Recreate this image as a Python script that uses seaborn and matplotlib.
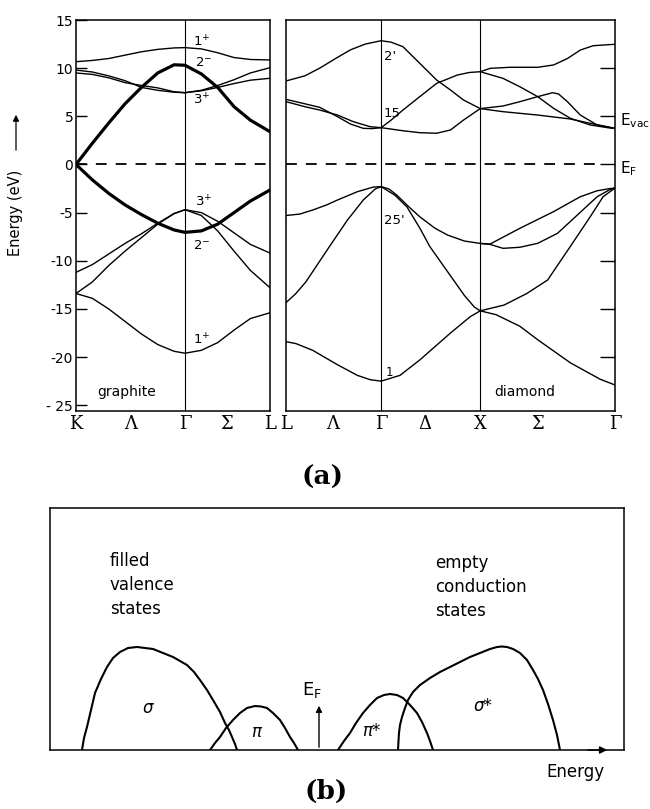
import numpy as np
import pandas as pd
import matplotlib
matplotlib.use("Agg")
import matplotlib.pyplot as plt
import seaborn as sns

sns.set_style("white")
plt.rcParams['font.family'] = ['DejaVu Sans']
plt.rcParams['axes.unicode_minus'] = False
plt.rcParams['mathtext.default'] = 'regular'
plt.rcParams['text.color'] = 'black'
plt.rcParams['axes.labelcolor'] = 'black'
plt.rcParams['xtick.color'] = 'black'
plt.rcParams['ytick.color'] = 'black'
plt.rcParams['lines.solid_joinstyle'] = 'round'

# ---------------- graphite bands (k: K=0, Gamma=1, L=1.78) ----------------
k_graphite = [0, 0.15, 0.3, 0.45, 0.6, 0.75, 0.9, 1.0, 1.15, 1.3, 1.45, 1.6, 1.78]
g_top_1p   = [10.67, 10.8, 11.0, 11.35, 11.7, 11.95, 12.1, 12.13, 12.0, 11.6, 11.1, 10.9, 10.85]
g_pi_up    = [0.0, 2.2, 4.3, 6.3, 8.0, 9.5, 10.35, 10.3, 9.4, 8.0, 6.0, 4.6, 3.4]
g_3p_a     = [9.8, 9.6, 9.2, 8.7, 8.0, 7.7, 7.5, 7.45, 7.7, 8.2, 8.8, 9.5, 10.05]
g_3p_b     = [9.5, 9.35, 9.0, 8.5, 8.2, 7.95, 7.55, 7.45, 7.65, 8.0, 8.4, 8.75, 8.95]
g_pi_down  = [0.0, -1.6, -3.0, -4.2, -5.2, -6.1, -6.8, -7.05, -6.9, -6.2, -5.0, -3.8, -2.65]
g_low_a    = [-11.2, -10.4, -9.3, -8.2, -7.2, -6.1, -5.1, -4.7, -5.0, -5.9, -7.1, -8.3, -9.2]
g_low_b    = [-13.4, -12.2, -10.5, -9.0, -7.6, -6.2, -5.1, -4.7, -5.3, -6.9, -9.0, -11.0, -12.8]
g_bot_1p   = [-13.4, -13.9, -15.0, -16.3, -17.6, -18.7, -19.4, -19.6, -19.3, -18.5, -17.2, -16.0, -15.4]

g_ticks = [0, 0.5, 1.0, 1.385, 1.78]
g_ticklabels = ['K', 'Λ', 'Γ', 'Σ', 'L']

# ---------------- diamond bands (k: L=0, Gamma=0.96, X=1.96, Gamma=3.32) ----------------
d_c1_k = [0, 0.19, 0.34, 0.5, 0.65, 0.8, 0.96]
d_c1_E = [8.67, 9.2, 10.0, 11.0, 11.9, 12.5, 12.85]
d_c2_k = [0.96, 1.06, 1.18, 1.35, 1.52, 1.66, 1.79, 1.96]
d_c2_E = [12.85, 12.7, 12.23, 10.5, 8.77, 7.73, 6.7, 5.8]
d_c3_k = [0, 0.19, 0.34, 0.52, 0.65, 0.78, 0.87, 0.96]
d_c3_E = [6.76, 6.3, 5.93, 4.96, 4.2, 3.75, 3.72, 3.82]
d_c4_k = [0, 0.19, 0.34, 0.52, 0.68, 0.85, 0.96]
d_c4_E = [6.52, 6.0, 5.65, 5.13, 4.44, 3.92, 3.82]
d_c5_k = [0.96, 1.06, 1.18, 1.35, 1.52, 1.73, 1.85, 1.96]
d_c5_E = [3.82, 4.6, 5.65, 7.04, 8.42, 9.29, 9.55, 9.63]
d_c6_k = [0.96, 1.18, 1.35, 1.52, 1.66, 1.79, 1.96]
d_c6_E = [3.82, 3.5, 3.3, 3.24, 3.58, 4.6, 5.8]
d_c7_k = [1.96, 2.06, 2.26, 2.54, 2.70, 2.84, 2.97, 3.10, 3.32]
d_c7_E = [9.63, 9.98, 10.09, 10.09, 10.33, 11.0, 11.88, 12.33, 12.48]
d_c8_k = [1.96, 2.19, 2.36, 2.54, 2.70, 2.87, 3.07, 3.27, 3.32]
d_c8_E = [9.63, 8.94, 8.07, 7.04, 5.83, 4.79, 4.1, 3.78, 3.75]
d_c9_k = [1.96, 2.19, 2.36, 2.54, 2.69, 2.75, 2.84, 2.97, 3.14, 3.32]
d_c9_E = [5.8, 6.07, 6.52, 7.04, 7.45, 7.32, 6.52, 5.13, 4.1, 3.75]
d_c10_k = [1.96, 2.19, 2.54, 2.87, 3.07, 3.32]
d_c10_E = [5.8, 5.48, 5.13, 4.72, 4.27, 3.75]

d_v1_k = [0, 0.14, 0.27, 0.41, 0.52, 0.72, 0.88, 0.96]
d_v1_E = [-5.3, -5.15, -4.73, -4.2, -3.69, -2.83, -2.35, -2.3]
d_v2_k = [0, 0.1, 0.2, 0.44, 0.62, 0.78, 0.90, 0.96]
d_v2_E = [-14.35, -13.4, -12.2, -8.5, -5.77, -3.69, -2.55, -2.3]
d_v3_k = [0, 0.1, 0.27, 0.52, 0.72, 0.85, 0.96]
d_v3_E = [-18.4, -18.6, -19.3, -20.8, -21.9, -22.35, -22.5]
d_v4_k = [0.96, 1.04, 1.12, 1.24, 1.35, 1.5, 1.63, 1.8, 1.96]
d_v4_E = [-2.3, -2.55, -3.2, -4.4, -5.43, -6.6, -7.33, -7.95, -8.2]
d_v5_k = [0.96, 1.1, 1.22, 1.35, 1.45, 1.58, 1.69, 1.8, 1.9, 1.96]
d_v5_E = [-2.3, -3.2, -4.4, -6.6, -8.5, -10.4, -12.0, -13.6, -14.8, -15.2]
d_v6_k = [0.96, 1.15, 1.35, 1.66, 1.86, 1.96]
d_v6_E = [-22.5, -21.9, -20.3, -17.5, -15.8, -15.2]
d_v7_k = [1.96, 2.06, 2.36, 2.70, 2.97, 3.14, 3.27, 3.32]
d_v7_E = [-8.2, -8.26, -6.63, -4.9, -3.35, -2.73, -2.5, -2.45]
d_v8_k = [1.96, 2.06, 2.19, 2.36, 2.54, 2.74, 2.94, 3.14, 3.27, 3.32]
d_v8_E = [-8.2, -8.3, -8.71, -8.6, -8.19, -7.15, -5.25, -3.35, -2.6, -2.45]
d_v9_k = [1.96, 2.2, 2.43, 2.64, 2.87, 3.07, 3.20, 3.32]
d_v9_E = [-15.2, -14.6, -13.4, -12.0, -8.5, -5.43, -3.35, -2.45]
d_v10_k = [1.96, 2.12, 2.36, 2.54, 2.87, 3.17, 3.32]
d_v10_E = [-15.2, -15.6, -16.8, -18.2, -20.6, -22.3, -22.9]

d_ticks = [0, 0.475, 0.96, 1.40, 1.96, 2.535, 3.32]
d_ticklabels = ['L', 'Λ', 'Γ', 'Δ', 'X', 'Σ', 'Γ']

# ---------------- density of states (panel b) ----------------
sigma_E = [32, 34, 37, 41, 45, 51, 57, 63, 70, 78, 87, 95, 103, 113, 123, 130, 137, 144, 150, 157, 163, 170, 175, 179, 182, 185, 187]
sigma_D = [0, 12, 23, 40, 57, 71, 83, 92, 98, 102, 103, 102, 101, 97, 93, 89, 85, 78, 70, 60, 50, 38, 27, 20, 13, 6, 0]
pi_E = [160, 165, 170, 176, 183, 190, 197, 205, 211, 217, 223, 230, 235, 240, 244, 248]
pi_D = [0, 7, 13, 22, 30, 37, 42, 44, 43.5, 42, 37, 30, 22, 13, 7, 0]
pistar_E = [288, 294, 300, 306, 313, 320, 327, 334, 340, 347, 353, 360, 367, 372, 377, 380, 383]
pistar_D = [0, 9, 17, 27, 37, 45, 52, 55, 56, 55, 52, 45, 37, 28, 17, 9, 0]
sigstar_E = [348, 348.5, 349, 350, 352, 355, 358, 363, 370, 380, 390, 400, 410, 420, 430, 440, 447, 452, 457, 463, 470, 477, 483, 488, 493, 498, 503, 507, 510]
sigstar_D = [0, 9, 17, 25, 33, 42, 50, 58, 65, 72, 78, 83, 88, 93, 97, 101, 103, 103.5, 103, 101, 97, 90, 80, 71, 60, 46, 30, 15, 0]
fermi_E = 269


def frame(pairs):
    rows = []
    for name, (k, e) in pairs.items():
        for kk, ee in zip(k, e):
            rows.append((name, kk, ee))
    return pd.DataFrame(rows, columns=['band', 'k', 'E'])


fig = plt.figure(figsize=(6.5, 8.09), dpi=100)
W, H = 650, 809
axL = fig.add_axes([76 / W, 1 - 411 / H, 194 / W, 391 / H])
axR = fig.add_axes([286 / W, 1 - 411 / H, 329 / W, 391 / H])
axB = fig.add_axes([50 / W, 1 - 750 / H, 574 / W, 242 / H])

ylo, yhi = -25.6, 15

# ---- graphite ----
thin_g = frame({'1p': (k_graphite, g_top_1p), '3a': (k_graphite, g_3p_a),
                '3b': (k_graphite, g_3p_b), 'la': (k_graphite, g_low_a),
                'lb': (k_graphite, g_low_b), 'b1': (k_graphite, g_bot_1p)})
thick_g = frame({'pu': (k_graphite, g_pi_up), 'pd': (k_graphite, g_pi_down)})
sns.lineplot(data=thin_g, x='k', y='E', units='band', estimator=None, color='black',
             lw=1.0, ax=axL, legend=False)
sns.lineplot(data=thick_g, x='k', y='E', units='band', estimator=None, color='black',
             lw=2.3, ax=axL, legend=False)
axL.axvline(1.0, color='black', lw=0.8)
axL.axhline(0, color='black', lw=1.3, ls=(0, (6, 5)))
axL.set_xlim(0, 1.78)
axL.set_ylim(ylo, yhi)
axL.set_yticks([15, 10, 5, 0, -5, -10, -15, -20, -25])
axL.set_yticklabels(['15', '10', '5', '0', '-5', '-10', '-15', '-20', '- 25'])
axL.tick_params(axis='y', direction='in', length=8, width=1, pad=2, labelsize=10, left=True)
axL.set_xticks(g_ticks)
axL.set_xticklabels(g_ticklabels, family='DejaVu Serif', fontsize=13)
axL.tick_params(axis='x', length=0, pad=3)
axL.set_xlabel('')
axL.set_ylabel('')
for s in axL.spines.values():
    s.set_linewidth(1.1)
    s.set_color('black')
lbl = dict(fontsize=9.5, ha='left', va='center')
axL.text(1.07, 12.7, '$1^{+}$', **lbl)
axL.text(1.09, 10.6, '$2^{-}$', **lbl)
axL.text(1.07, 6.7, '$3^{+}$', **lbl)
axL.text(1.09, -3.9, '$3^{+}$', **lbl)
axL.text(1.07, -8.4, '$2^{-}$', **lbl)
axL.text(1.07, -18.2, '$1^{+}$', **lbl)
axL.text(0.46, -23.6, 'graphite', fontsize=10, ha='center', va='center')

fig.text(16 / W, 1 - 213 / H, 'Energy (eV)', rotation=90, fontsize=10.5,
         ha='center', va='center')
fig.add_artist(matplotlib.patches.FancyArrowPatch(
    (16 / W, 1 - 153 / H), (16 / W, 1 - 112 / H), transform=fig.transFigure,
    arrowstyle='-|>', mutation_scale=9, color='black', lw=0.9))

# ---- diamond ----
thin_d = frame({'c1': (d_c1_k, d_c1_E), 'c2': (d_c2_k, d_c2_E), 'c3': (d_c3_k, d_c3_E),
                'c4': (d_c4_k, d_c4_E), 'c5': (d_c5_k, d_c5_E), 'c6': (d_c6_k, d_c6_E),
                'c7': (d_c7_k, d_c7_E), 'c8': (d_c8_k, d_c8_E), 'c9': (d_c9_k, d_c9_E),
                'c10': (d_c10_k, d_c10_E),
                'v1': (d_v1_k, d_v1_E), 'v2': (d_v2_k, d_v2_E), 'v3': (d_v3_k, d_v3_E),
                'v4': (d_v4_k, d_v4_E), 'v5': (d_v5_k, d_v5_E), 'v6': (d_v6_k, d_v6_E),
                'v7': (d_v7_k, d_v7_E), 'v8': (d_v8_k, d_v8_E), 'v9': (d_v9_k, d_v9_E),
                'v10': (d_v10_k, d_v10_E)})
sns.lineplot(data=thin_d, x='k', y='E', units='band', estimator=None, color='black',
             lw=1.0, ax=axR, legend=False)
axR.axvline(0.96, color='black', lw=0.8)
axR.axvline(1.96, color='black', lw=0.8)
axR.axhline(0, xmax=0.955, color='black', lw=1.3, ls=(0, (6, 5)))
axR.set_xlim(0, 3.32)
axR.set_ylim(ylo, yhi)
axR.yaxis.tick_right()
axR.set_yticks([10, 5, 0, -5, -10, -15, -20])
axR.tick_params(axis='y', direction='in', length=11, width=1, labelright=False, right=True)
axR.set_xticks(d_ticks)
axR.set_xticklabels(d_ticklabels, family='DejaVu Serif', fontsize=13)
axR.tick_params(axis='x', length=0, pad=3)
axR.set_xlabel('')
axR.set_ylabel('')
for s in axR.spines.values():
    s.set_linewidth(1.1)
    s.set_color('black')
axR.text(0.985, 11.2, "2'", **lbl)
axR.text(0.985, 5.3, '15', **lbl)
axR.text(0.985, -5.8, "25'", **lbl)
axR.text(1.01, -21.6, '1', fontsize=8.5, ha='left', va='center')
axR.text(2.41, -23.6, 'diamond', fontsize=10, ha='center', va='center')
axR.text(1.015, 4.6, '$E_{vac}$', transform=axR.get_yaxis_transform(), fontsize=11,
         ha='left', va='center', clip_on=False)
axR.text(1.015, -0.4, '$E_{F}$', transform=axR.get_yaxis_transform(), fontsize=11,
         ha='left', va='center', clip_on=False)

fig.text(323 / W, 1 - 477 / H, '(a)', family='DejaVu Serif', fontweight='bold',
         fontsize=19, ha='center', va='center')

# ---- panel (b) ----
dos = frame({'s': (sigma_E, sigma_D), 'p': (pi_E, pi_D),
             'ps': (pistar_E, pistar_D), 'ss': (sigstar_E, sigstar_D)})
dos.columns = ['state', 'energy', 'dos']
sns.lineplot(data=dos, x='energy', y='dos', units='state', estimator=None, color='black',
             lw=1.5, ax=axB, legend=False, sort=False)
axB.set_xlim(0, 574)
axB.set_ylim(0, 242)
axB.set_xticks([])
axB.set_yticks([])
axB.set_xlabel('')
axB.set_ylabel('')
for s in axB.spines.values():
    s.set_linewidth(1.1)
    s.set_color('black')
axB.annotate('', xy=(fermi_E, 47), xytext=(fermi_E, 0),
             arrowprops=dict(arrowstyle='-|>', color='black', lw=1.0, mutation_scale=9))
axB.annotate('', xy=(560, 0), xytext=(535, 0), annotation_clip=False,
             arrowprops=dict(arrowstyle='-|>', color='black', lw=1.0, mutation_scale=11))
axB.text(262, 60, '$E_{F}$', fontsize=13, ha='center', va='center')
axB.text(98, 42, 'σ', fontsize=12, ha='center', va='center', style='italic')
axB.text(206, 18, 'π', fontsize=12, ha='center', va='center', style='italic')
axB.text(321, 19, 'π*', fontsize=12, ha='center', va='center', style='italic')
axB.text(433, 44, 'σ*', fontsize=12, ha='center', va='center', style='italic')
axB.text(60, 165, 'filled\nvalence\nstates', fontsize=12, ha='left', va='center',
         linespacing=1.45)
axB.text(385, 163, 'empty\nconduction\nstates', fontsize=12, ha='left', va='center',
         linespacing=1.45)
axB.text(525, -22, 'Energy', fontsize=12, ha='center', va='center', clip_on=False)

fig.text(326 / W, 1 - 791 / H, '(b)', family='DejaVu Serif', fontweight='bold',
         fontsize=19, ha='center', va='center')

fig.savefig('out.png', dpi=100)
